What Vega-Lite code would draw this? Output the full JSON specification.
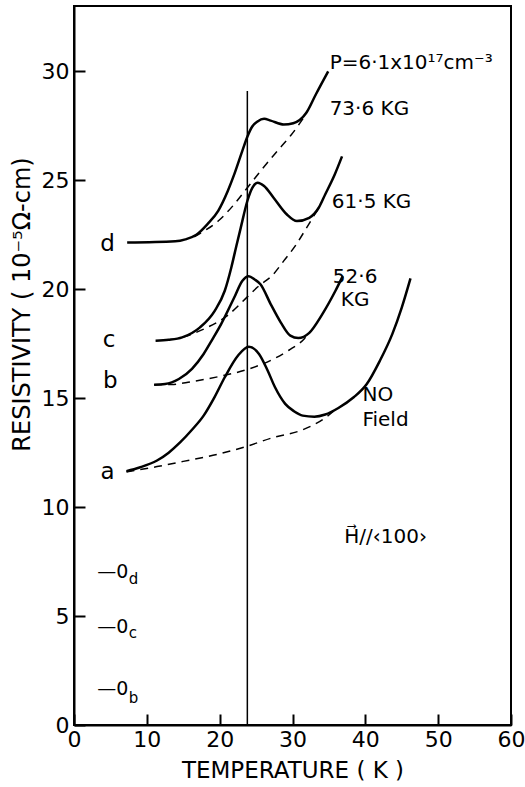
{
  "$schema": "https://vega.github.io/schema/vega-lite/v6.json",
  "width": 437,
  "height": 719,
  "autosize": {"type": "none"},
  "padding": {"left": 74, "top": 6, "right": 14, "bottom": 62},
  "background": "white",
  "config": {
    "view": {"stroke": "black", "strokeWidth": 2},
    "font": "DejaVu Sans",
    "axis": {
      "domainColor": "black", "domainWidth": 2,
      "tickColor": "black", "tickWidth": 2, "tickSize": -11,
      "labelColor": "black", "labelFont": "DejaVu Sans", "labelFontSize": 22,
      "titleFont": "DejaVu Sans", "titleFontWeight": "normal", "titleColor": "black",
      "grid": false
    }
  },
  "datasets": {
    "solid": [
      {"curve": "a", "T": 7.2, "R": 11.65}, {"curve": "a", "T": 9, "R": 11.82}, {"curve": "a", "T": 11.4, "R": 12.14}, {"curve": "a", "T": 13, "R": 12.5}, {"curve": "a", "T": 14.6, "R": 12.98}, {"curve": "a", "T": 16.2, "R": 13.55}, {"curve": "a", "T": 17.8, "R": 14.2}, {"curve": "a", "T": 19.3, "R": 15.05}, {"curve": "a", "T": 20.7, "R": 15.96}, {"curve": "a", "T": 22.5, "R": 16.95}, {"curve": "a", "T": 24.0, "R": 17.36}, {"curve": "a", "T": 25.4, "R": 17.03}, {"curve": "a", "T": 26.6, "R": 16.26}, {"curve": "a", "T": 27.6, "R": 15.5}, {"curve": "a", "T": 29.0, "R": 14.74}, {"curve": "a", "T": 30.2, "R": 14.4}, {"curve": "a", "T": 31.4, "R": 14.2}, {"curve": "a", "T": 33.0, "R": 14.15}, {"curve": "a", "T": 34.5, "R": 14.25}, {"curve": "a", "T": 36.3, "R": 14.55}, {"curve": "a", "T": 38.4, "R": 15.04}, {"curve": "a", "T": 40.2, "R": 15.65}, {"curve": "a", "T": 42.0, "R": 16.72}, {"curve": "a", "T": 43.7, "R": 17.94}, {"curve": "a", "T": 45.0, "R": 19.16}, {"curve": "a", "T": 46.2, "R": 20.5},
      {"curve": "b", "T": 11, "R": 15.62}, {"curve": "b", "T": 12.5, "R": 15.65}, {"curve": "b", "T": 14.4, "R": 15.88}, {"curve": "b", "T": 16.2, "R": 16.35}, {"curve": "b", "T": 17.8, "R": 17.03}, {"curve": "b", "T": 19.0, "R": 17.7}, {"curve": "b", "T": 20.2, "R": 18.4}, {"curve": "b", "T": 22.0, "R": 19.62}, {"curve": "b", "T": 23.1, "R": 20.38}, {"curve": "b", "T": 24.0, "R": 20.6}, {"curve": "b", "T": 24.8, "R": 20.45}, {"curve": "b", "T": 25.6, "R": 20.23}, {"curve": "b", "T": 27.0, "R": 19.32}, {"curve": "b", "T": 28.4, "R": 18.47}, {"curve": "b", "T": 29.7, "R": 17.87}, {"curve": "b", "T": 30.8, "R": 17.76}, {"curve": "b", "T": 32.3, "R": 18.0}, {"curve": "b", "T": 34.1, "R": 18.86}, {"curve": "b", "T": 35.9, "R": 19.93}, {"curve": "b", "T": 36.9, "R": 20.6},
      {"curve": "c", "T": 11.2, "R": 17.64}, {"curve": "c", "T": 13, "R": 17.68}, {"curve": "c", "T": 14.85, "R": 17.79}, {"curve": "c", "T": 17.3, "R": 18.25}, {"curve": "c", "T": 19.3, "R": 19.0}, {"curve": "c", "T": 20.7, "R": 19.93}, {"curve": "c", "T": 21.6, "R": 21.0}, {"curve": "c", "T": 22.3, "R": 22.0}, {"curve": "c", "T": 22.9, "R": 22.83}, {"curve": "c", "T": 23.8, "R": 24.05}, {"curve": "c", "T": 24.5, "R": 24.66}, {"curve": "c", "T": 25.2, "R": 24.89}, {"curve": "c", "T": 26.1, "R": 24.74}, {"curve": "c", "T": 27.4, "R": 24.2}, {"curve": "c", "T": 29.2, "R": 23.44}, {"curve": "c", "T": 30.6, "R": 23.13}, {"curve": "c", "T": 32.3, "R": 23.28}, {"curve": "c", "T": 33.6, "R": 23.74}, {"curve": "c", "T": 34.5, "R": 24.36}, {"curve": "c", "T": 35.8, "R": 25.27}, {"curve": "c", "T": 36.8, "R": 26.1},
      {"curve": "d", "T": 7.3, "R": 22.14}, {"curve": "d", "T": 13.9, "R": 22.2}, {"curve": "d", "T": 15.3, "R": 22.29}, {"curve": "d", "T": 16.8, "R": 22.5}, {"curve": "d", "T": 18.3, "R": 22.98}, {"curve": "d", "T": 19.8, "R": 23.6}, {"curve": "d", "T": 21.1, "R": 24.5}, {"curve": "d", "T": 22.0, "R": 25.27}, {"curve": "d", "T": 23.1, "R": 26.34}, {"curve": "d", "T": 23.8, "R": 27.0}, {"curve": "d", "T": 24.5, "R": 27.48}, {"curve": "d", "T": 25.2, "R": 27.7}, {"curve": "d", "T": 26.1, "R": 27.82}, {"curve": "d", "T": 27.0, "R": 27.74}, {"curve": "d", "T": 28.8, "R": 27.56}, {"curve": "d", "T": 30.1, "R": 27.62}, {"curve": "d", "T": 31.9, "R": 28.1}, {"curve": "d", "T": 33.2, "R": 28.94}, {"curve": "d", "T": 34.9, "R": 30.0}
    ],
    "dashed": [
      {"curve": "a", "T": 7.2, "R": 11.62}, {"curve": "a", "T": 11.4, "R": 11.86}, {"curve": "a", "T": 15, "R": 12.1}, {"curve": "a", "T": 20, "R": 12.45}, {"curve": "a", "T": 24, "R": 12.82}, {"curve": "a", "T": 27.4, "R": 13.2}, {"curve": "a", "T": 31, "R": 13.5}, {"curve": "a", "T": 32.8, "R": 13.76}, {"curve": "a", "T": 34.4, "R": 14.08}, {"curve": "a", "T": 35.8, "R": 14.45},
      {"curve": "b", "T": 11, "R": 15.62}, {"curve": "b", "T": 13.4, "R": 15.63}, {"curve": "b", "T": 16, "R": 15.75}, {"curve": "b", "T": 20, "R": 16.0}, {"curve": "b", "T": 24, "R": 16.34}, {"curve": "b", "T": 27.4, "R": 16.8}, {"curve": "b", "T": 29.5, "R": 17.2}, {"curve": "b", "T": 31.6, "R": 17.72}, {"curve": "b", "T": 32.5, "R": 18.08},
      {"curve": "c", "T": 15.0, "R": 17.8}, {"curve": "c", "T": 18, "R": 18.2}, {"curve": "c", "T": 21.1, "R": 18.8}, {"curve": "c", "T": 23.8, "R": 19.65}, {"curve": "c", "T": 25.2, "R": 20.1}, {"curve": "c", "T": 27.4, "R": 20.7}, {"curve": "c", "T": 28.8, "R": 21.3}, {"curve": "c", "T": 30.4, "R": 22.0}, {"curve": "c", "T": 31.9, "R": 22.8}, {"curve": "c", "T": 33.6, "R": 23.74},
      {"curve": "d", "T": 16.5, "R": 22.4}, {"curve": "d", "T": 18, "R": 22.7}, {"curve": "d", "T": 19.8, "R": 23.13}, {"curve": "d", "T": 22.0, "R": 23.9}, {"curve": "d", "T": 23.8, "R": 24.66}, {"curve": "d", "T": 25.6, "R": 25.42}, {"curve": "d", "T": 27.9, "R": 26.34}, {"curve": "d", "T": 29.7, "R": 27.03}, {"curve": "d", "T": 31.9, "R": 28.05}
    ],
    "letters": [
      {"T": 4.6, "R": 11.31, "label": "a"}, {"T": 5.0, "R": 15.48, "label": "b"}, {"T": 4.8, "R": 17.36, "label": "c"}, {"T": 4.6, "R": 21.76, "label": "d"}
    ],
    "zeros": [
      {"T": 3.2, "R": 6.73, "label": "—0"}, {"T": 3.2, "R": 4.21, "label": "—0"}, {"T": 3.2, "R": 1.37, "label": "—0"}
    ],
    "subs": [
      {"T": 7.5, "R": 6.45, "label": "d"}, {"T": 7.5, "R": 3.98, "label": "c"}, {"T": 7.5, "R": 1.0, "label": "b"}
    ],
    "fields": [
      {"T": 35.1, "R": 30.1, "label": "P=6·1x10¹⁷cm⁻³"},
      {"T": 35.1, "R": 28.0, "label": "73·6 KG"},
      {"T": 35.4, "R": 23.73, "label": "61·5 KG"},
      {"T": 39.6, "R": 14.89, "label": "NO\nField"},
      {"T": 37.1, "R": 8.34, "label": "H⃗//‹100›"}
    ],
    "centered": [
      {"T": 38.6, "R": 20.3, "label": "52·6\nKG"}
    ],
    "tc": [
      {"T": 23.8, "R": 0, "R2": 29.1}
    ]
  },
  "encoding": {
    "x": {
      "field": "T", "type": "quantitative",
      "scale": {"domain": [0, 60], "nice": false, "zero": false},
      "axis": {"values": [0, 10, 20, 30, 40, 50, 60], "title": "TEMPERATURE ( K )", "titleFontSize": 23, "labelPadding": 15, "labelFlush": false, "titleY": 52, "titleBaseline": "alphabetic"}
    },
    "y": {
      "field": "R", "type": "quantitative",
      "scale": {"domain": [0, 33], "nice": false, "zero": false},
      "axis": {"values": [0, 5, 10, 15, 20, 25, 30], "title": "RESISTIVITY ( 10⁻⁵Ω-cm)", "titleFontSize": 24, "labelPadding": 16, "titleX": -52, "titleY": 298, "titleBaseline": "middle", "titleAlign": "center"}
    }
  },
  "layer": [
    {
      "data": {"name": "solid"},
      "mark": {"type": "line", "color": "black", "strokeWidth": 2.5, "interpolate": "monotone"},
      "encoding": {"detail": {"field": "curve"}}
    },
    {
      "data": {"name": "dashed"},
      "mark": {"type": "line", "color": "black", "strokeWidth": 1.5, "strokeDash": [8, 6], "interpolate": "monotone"},
      "encoding": {"detail": {"field": "curve"}}
    },
    {
      "data": {"name": "tc"},
      "mark": {"type": "rule", "color": "black", "strokeWidth": 1.5},
      "encoding": {"y2": {"field": "R2"}}
    },
    {
      "data": {"name": "letters"},
      "mark": {"type": "text", "color": "black", "fontSize": 23, "align": "center", "baseline": "alphabetic", "font": "DejaVu Sans"},
      "encoding": {"text": {"field": "label"}}
    },
    {
      "data": {"name": "zeros"},
      "mark": {"type": "text", "color": "black", "fontSize": 19, "align": "left", "baseline": "alphabetic", "font": "DejaVu Sans"},
      "encoding": {"text": {"field": "label"}}
    },
    {
      "data": {"name": "subs"},
      "mark": {"type": "text", "color": "black", "fontSize": 15, "align": "left", "baseline": "alphabetic", "font": "DejaVu Sans"},
      "encoding": {"text": {"field": "label"}}
    },
    {
      "data": {"name": "fields"},
      "mark": {"type": "text", "color": "black", "fontSize": 20, "align": "left", "baseline": "alphabetic", "font": "DejaVu Sans", "lineBreak": "\n", "lineHeight": 25},
      "encoding": {"text": {"field": "label"}}
    },
    {
      "data": {"name": "centered"},
      "mark": {"type": "text", "color": "black", "fontSize": 20, "align": "center", "baseline": "alphabetic", "font": "DejaVu Sans", "lineBreak": "\n", "lineHeight": 23},
      "encoding": {"text": {"field": "label"}}
    }
  ]
}
